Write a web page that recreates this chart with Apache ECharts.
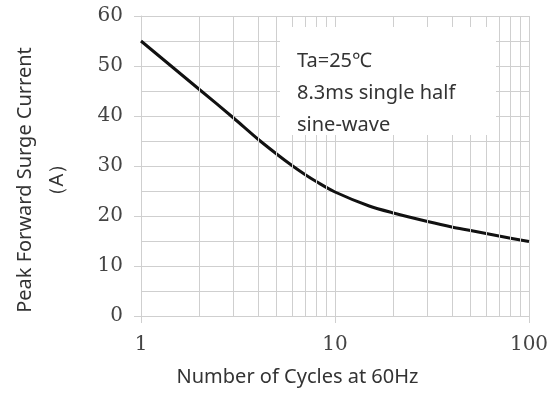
<!DOCTYPE html>
<html>
<head>
<meta charset="utf-8">
<script src="https://cdn.jsdelivr.net/npm/echarts@6/dist/echarts.min.js"></script>
<style>
  html, body { margin: 0; padding: 0; background: #fff; }
  #chart { width: 555px; height: 393px; }
</style>
</head>
<body>
<div id="chart"></div>
<script>
// values
const cycles = [1, 2, 3, 4, 5, 6, 7, 8, 10, 15, 20, 30, 40, 50, 70, 100];
const surgeCurrent = [55, 45.3, 39.6, 35.4, 32.4, 30.1, 28.3, 26.9, 24.8, 22.0, 20.6, 18.9, 17.8, 17.1, 16.0, 14.9];
// log grid lines between the decades
const minorCycles = [2, 3, 4, 5, 6, 7, 8, 9, 20, 30, 40, 50, 60, 70, 80, 90];
const noteLines = ['Ta=25\u2103', '8.3ms single half', 'sine-wave'];

const gridColor = '#cfcfcf';
const chart = echarts.init(document.getElementById('chart'));

const option = {
  animation: false,
  grid: { left: 141, right: 26, top: 16, bottom: 77 },
  xAxis: {
    type: 'log',
    logBase: 10,
    min: 1,
    max: 100,
    name: 'Number of Cycles at 60Hz',
    nameLocation: 'middle',
    nameGap: 51,
    nameTextStyle: { fontFamily: 'Noto Sans', fontSize: 20, color: '#333', padding: [0, 75, 0, 0] },
    axisLine: { show: true, lineStyle: { color: gridColor, width: 1 } },
    axisTick: { show: true, inside: false, length: 7, lineStyle: { color: gridColor } },
    axisLabel: { fontFamily: 'DejaVu Serif', fontSize: 20, color: '#444', margin: 19 },
    splitLine: { show: true, lineStyle: { color: gridColor, width: 1 } }
  },
  yAxis: {
    type: 'value',
    min: 0,
    max: 60,
    interval: 10,
    name: 'Peak Forward Surge Current\n\uFF08A\uFF09',
    nameLocation: 'middle',
    nameRotate: 90,
    nameGap: 68,
    nameTextStyle: { fontFamily: 'Noto Sans', fontSize: 20, lineHeight: 32, color: '#333', padding: [0, 28, 0, 0] },
    axisLine: { show: true, lineStyle: { color: gridColor, width: 1 } },
    axisTick: { show: true, length: 7, lineStyle: { color: gridColor } },
    axisLabel: { fontFamily: 'DejaVu Serif', fontSize: 20, color: '#444', margin: 18 },
    splitLine: { show: true, lineStyle: { color: gridColor, width: 1 } },
    minorTick: { show: false, splitNumber: 2 },
    minorSplitLine: { show: true, lineStyle: { color: gridColor, width: 1 } }
  },
  graphic: [
    {
      type: 'rect',
      zlevel: 1,
      z: 10,
      shape: { x: 280, y: 27, width: 216, height: 108 },
      style: { fill: '#fff' }
    },
    {
      type: 'text',
      zlevel: 1,
      z: 11,
      left: 297,
      top: 45,
      style: {
        text: noteLines.join('\n'),
        fontFamily: 'Noto Sans',
        fontSize: 20,
        lineHeight: 32,
        fill: '#333'
      }
    }
  ],
  series: [
    {
      name: 'grid',
      type: 'line',
      z: 0,
      silent: true,
      data: [],
      markLine: {
        silent: true,
        symbol: 'none',
        label: { show: false },
        lineStyle: { color: gridColor, type: 'solid', width: 1 },
        data: minorCycles.map(v => ({ xAxis: v }))
      }
    },
    {
      name: 'IFSM',
      type: 'line',
      z: 3,
      smooth: 0.3,
      symbol: 'none',
      lineStyle: { color: '#111', width: 3 },
      data: cycles.map((c, i) => [c, surgeCurrent[i]])
    }
  ]
};

chart.setOption(option);
</script>
</body>
</html>
